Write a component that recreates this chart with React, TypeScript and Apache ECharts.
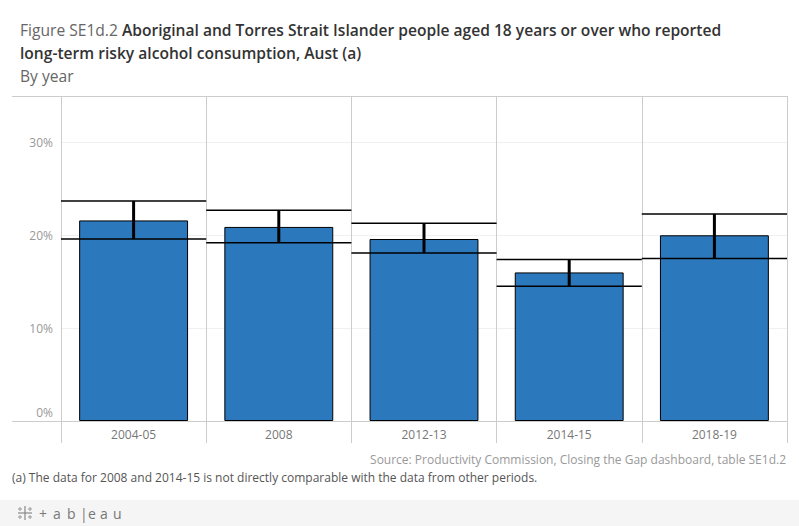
import React, { useEffect, useRef } from "react";
import * as echarts from "echarts";

const categories = ["2004-05", "2008", "2012-13", "2014-15", "2018-19"];
const values = [21.6, 20.9, 19.6, 16.0, 20.0];
const upper = [23.7, 22.7, 21.3, 17.4, 22.3];
const lower = [19.6, 19.2, 18.1, 14.5, 17.5];
const yTicks = [0, 10, 20, 30];

const FONT = "'Open Sans', 'Noto Sans', sans-serif";
const LOGO = ["+", "a", "b", "|", "e", "a", "u"];
const LOGO_X = [39, 53, 67, 80, 88, 100, 113];

export default function App() {
  const ref = useRef<HTMLDivElement>(null);
  useEffect(() => {
    if (!ref.current) return;
    const chart = echarts.init(ref.current, null, { renderer: "svg" });
    const option: any = {
      animation: false,
      backgroundColor: "#ffffff",
      textStyle: { fontFamily: FONT },
      title: {
        left: 15,
        top: 13,
        text:
          "{a|Figure SE1d.2 }{b|Aboriginal and Torres Strait Islander people aged 18 years or over who reported}\n{b|long-term risky alcohol consumption, Aust (a)}\n{a|By year}",
        textStyle: {
          fontWeight: "normal",
          rich: {
            a: { fontFamily: FONT, fontSize: 15.6, color: "#666666", fontWeight: "normal", lineHeight: 23 },
            b: { fontFamily: FONT, fontSize: 15.6, color: "#333333", fontWeight: 600, lineHeight: 23 },
          },
        },
      },
      grid: { left: 61, right: 12, top: 96, bottom: 105, containLabel: false },
      xAxis: {
        type: "category",
        data: categories,
        boundaryGap: true,
        axisLine: { show: false },
        axisTick: { show: true, length: 22, alignWithLabel: false, lineStyle: { color: "#cccccc" } },
        axisLabel: { color: "#777777", fontSize: 12, fontFamily: FONT, margin: 7 },
        splitLine: { show: true, lineStyle: { color: "#cccccc", width: 1 } },
      },
      yAxis: {
        type: "value",
        min: 0,
        max: 35,
        interval: 10,
        axisLine: { show: false },
        axisTick: { show: false },
        splitLine: { show: true, lineStyle: { color: "#f0f0f0" } },
        axisLabel: {
          showMaxLabel: false,
          color: "#999999",
          fontSize: 12,
          fontFamily: FONT,
          margin: 8,
          formatter: (v: number) => (yTicks.indexOf(v) < 0 ? "" : v === 0 ? "{z|0%}" : v + "%"),
          rich: { z: { padding: [0, 0, 18, 0], color: "#999999", fontSize: 12, fontFamily: FONT } },
        },
      },
      series: [
        {
          type: "bar",
          data: values,
          barWidth: "75%",
          itemStyle: { color: "#2c78bd", borderColor: "#000000", borderWidth: 1 },
          z: 2,
        },
        {
          type: "custom",
          z: 5,
          data: categories.map((_, i) => [i, lower[i], upper[i]]),
          renderItem: (params: any, api: any) => {
            const i = api.value(0);
            const lo = api.coord([i, api.value(1)]);
            const hi = api.coord([i, api.value(2)]);
            const w = api.size([1, 0])[0];
            const x0 = lo[0] - w / 2;
            const x1 = lo[0] + w / 2;
            const st = { stroke: "#000000", lineWidth: 1.5 };
            return {
              type: "group",
              children: [
                { type: "line", shape: { x1: x0, y1: hi[1], x2: x1, y2: hi[1] }, style: st },
                { type: "line", shape: { x1: x0, y1: lo[1], x2: x1, y2: lo[1] }, style: st },
                { type: "line", shape: { x1: lo[0], y1: hi[1], x2: lo[0], y2: lo[1] }, style: { stroke: "#000000", lineWidth: 3 } },
              ],
            };
          },
        },
      ],
      graphic: [
        { type: "line", shape: { x1: 12, y1: 96.5, x2: 787.5, y2: 96.5 }, style: { stroke: "#cccccc", lineWidth: 1 }, z: 10 },
        { type: "line", shape: { x1: 12, y1: 421.5, x2: 787.5, y2: 421.5 }, style: { stroke: "#cccccc", lineWidth: 1 }, z: 10 },
        {
          type: "text",
          right: 13,
          top: 453,
          style: {
            text: "Source: Productivity Commission, Closing the Gap dashboard, table SE1d.2",
            fill: "#999999",
            font: "12px " + FONT,
          },
        },
        {
          type: "text",
          left: 12,
          top: 471,
          style: {
            text: "(a) The data for 2008 and 2014-15 is not directly comparable with the data from other periods.",
            fill: "#555555",
            font: "12px " + FONT,
          },
        },
        { type: "rect", shape: { x: 0, y: 500, width: 799, height: 26 }, style: { fill: "#f5f5f5" } },
        {
          type: "group",
          x: 25,
          y: 513,
          children: [
            { type: "line", shape: { x1: -7, y1: 0, x2: 7, y2: 0 }, style: { stroke: "#888888", lineWidth: 1.2 } },
            { type: "line", shape: { x1: 0, y1: -7, x2: 0, y2: 7 }, style: { stroke: "#888888", lineWidth: 1.2 } },
            { type: "line", shape: { x1: -7, y1: -4, x2: -3, y2: -4 }, style: { stroke: "#999999", lineWidth: 1 } },
            { type: "line", shape: { x1: -5, y1: -6, x2: -5, y2: -2 }, style: { stroke: "#999999", lineWidth: 1 } },
            { type: "line", shape: { x1: 3, y1: 4, x2: 7, y2: 4 }, style: { stroke: "#999999", lineWidth: 1 } },
            { type: "line", shape: { x1: 5, y1: 2, x2: 5, y2: 6 }, style: { stroke: "#999999", lineWidth: 1 } },
            { type: "line", shape: { x1: 3, y1: -4, x2: 7, y2: -4 }, style: { stroke: "#999999", lineWidth: 1 } },
            { type: "line", shape: { x1: 5, y1: -6, x2: 5, y2: -2 }, style: { stroke: "#999999", lineWidth: 1 } },
            { type: "line", shape: { x1: -7, y1: 4, x2: -3, y2: 4 }, style: { stroke: "#999999", lineWidth: 1 } },
            { type: "line", shape: { x1: -5, y1: 2, x2: -5, y2: 6 }, style: { stroke: "#999999", lineWidth: 1 } },
          ],
        },
        ...LOGO.map((ch, k) => ({
          type: "text",
          x: LOGO_X[k],
          y: 513,
          style: {
            text: ch,
            fill: "#777777",
            font: "14px " + FONT,
            verticalAlign: "middle",
          },
        })),
      ],
    };
    chart.setOption(option);
    return () => chart.dispose();
  }, []);
  return (
    <div
      ref={ref}
      style={{ position: "fixed", left: 0, top: 0, width: 799, height: 526 }}
    />
  );
}
